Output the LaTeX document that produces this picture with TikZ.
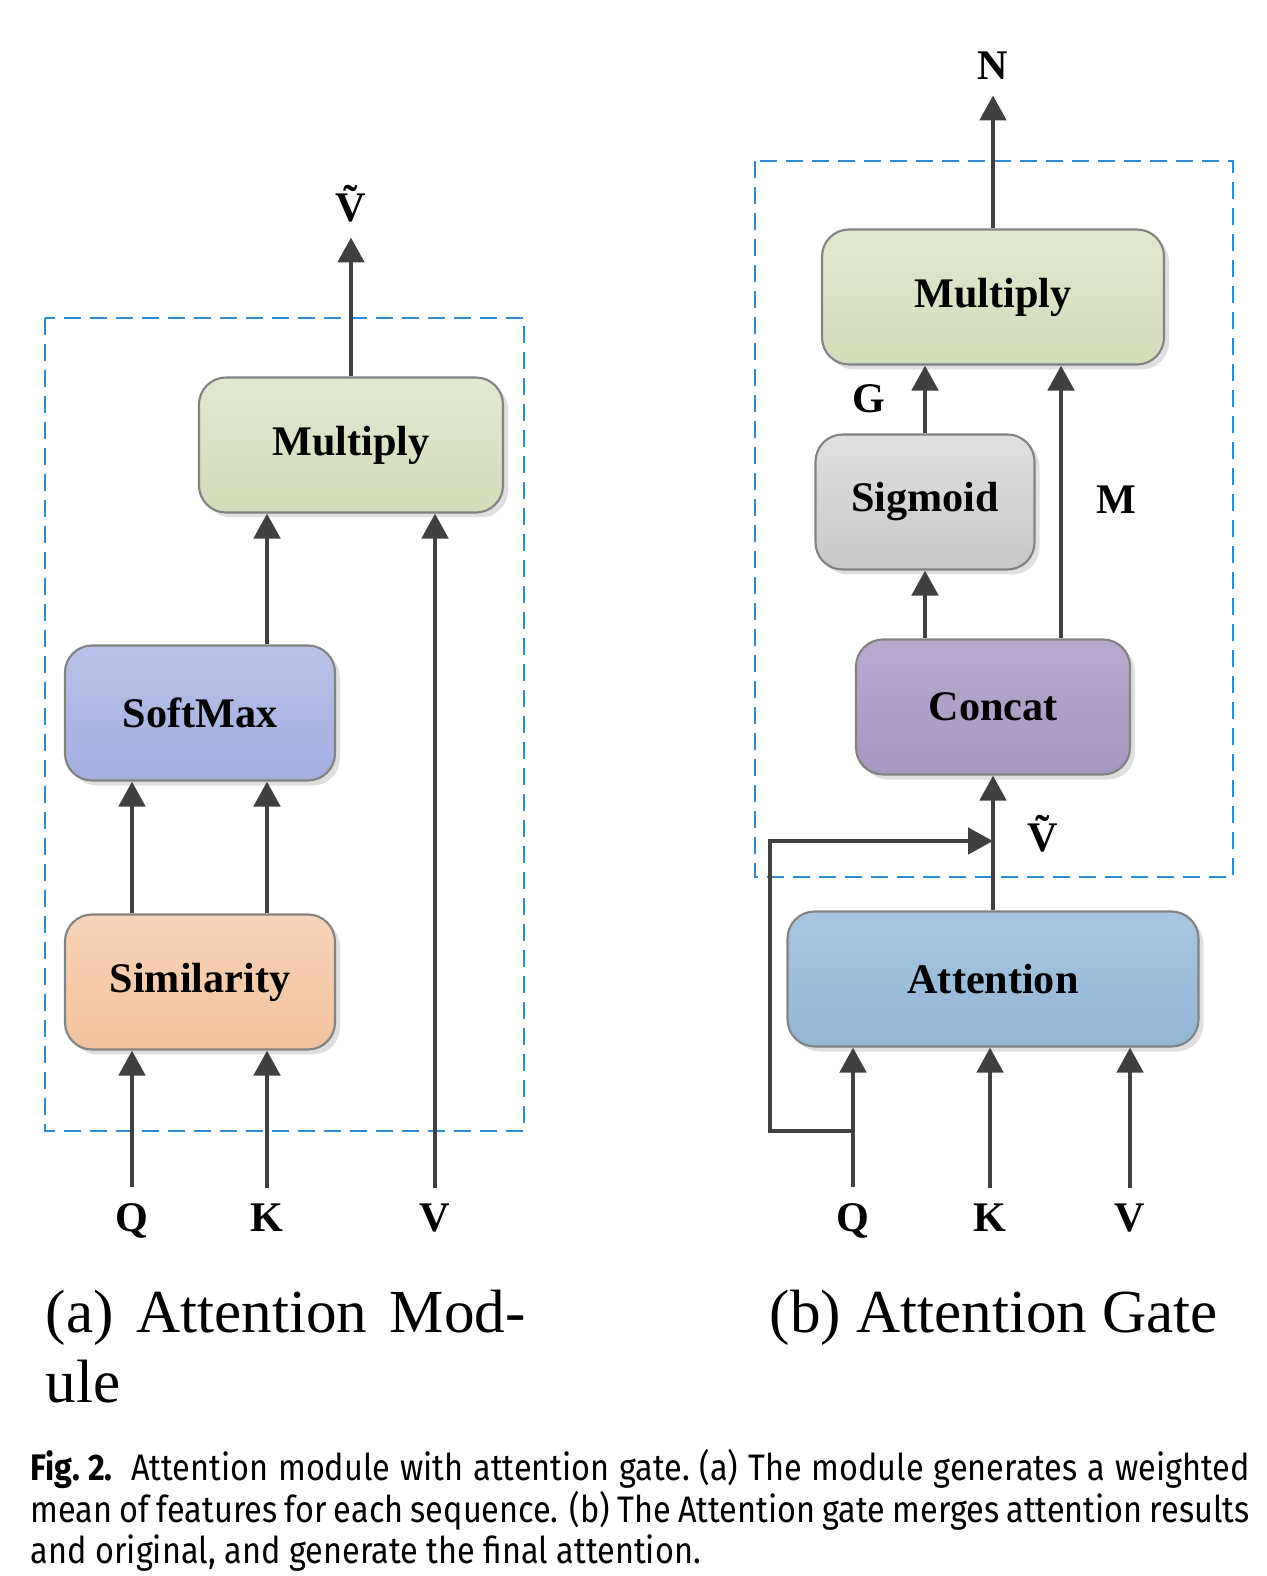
\documentclass[tikz,border=0pt]{standalone}
\usepackage{fontspec}
\usepackage{tikz}
\usetikzlibrary{arrows.meta,positioning,shadows}
\newfontfamily\boxfont{Liberation Serif}
\newfontfamily\capfont[FakeStretch=0.88]{Fira Sans}
\definecolor{arrowgray}{RGB}{64,64,64}
\definecolor{boxline}{RGB}{130,130,130}
\definecolor{dashblue}{RGB}{45,140,210}
\newcommand{\vtil}{Ṽ}

\begin{document}
\begin{tikzpicture}[
    x=0.1mm, y=-0.1mm,
    box/.style={rectangle, rounded corners=2.7mm, draw=boxline, line width=0.6pt, minimum height=13.5mm, align=center, font=\boxfont\bfseries\fontsize{12}{14}\selectfont, drop shadow={shadow xshift=0.5mm, shadow yshift=-0.5mm, opacity=0.25}},
    lbl/.style={inner sep=1.5mm, font=\boxfont\bfseries\fontsize{12}{14}\selectfont},
    sub/.style={anchor=base west, inner sep=0, font=\boxfont\fontsize{17.4}{20}\selectfont},
    arrow/.style={-{Triangle[width=2.6mm,length=2.5mm]}, line width=1.4pt, draw=arrowgray},
    group/.style={draw=dashblue, line width=0.8pt, dash pattern=on 1.7mm off 0.9mm}
]
\useasboundingbox (0,0) rectangle (1266,1576);

% (a) Attention module
\draw[group] (45,318) rectangle (524,1131);
\node[box, minimum width=30.4mm, top color={rgb,255:red,224;green,232;blue,208}, bottom color={rgb,255:red,210;green,221;blue,186}] (mulA) at (351,445) {Multiply};
\node[box, minimum width=27mm, top color={rgb,255:red,186;green,194;blue,233}, bottom color={rgb,255:red,162;green,174;blue,222}] (softA) at (200,713) {SoftMax};
\node[box, minimum width=27mm, top color={rgb,255:red,249;green,212;blue,184}, bottom color={rgb,255:red,240;green,194;blue,158}] (simA) at (200,982) {Similarity};
\node[lbl, above=13.9mm of mulA] (vtA) {\vtil};
\node[lbl, anchor=base] (qA) at (132,1231) {Q};
\node[lbl, anchor=base] (kA) at (267,1231) {K};
\node[lbl, anchor=base] (vA) at (435,1231) {V};

\draw[arrow] (qA.north) -- (qA.north |- simA.south);
\draw[arrow] (kA.north) -- (kA.north |- simA.south);
\draw[arrow] (vA.north) -- (vA.north |- mulA.south);
\draw[arrow] (simA.north -| qA) -- (softA.south -| qA);
\draw[arrow] (simA.north -| kA) -- (softA.south -| kA);
\draw[arrow] (softA.north -| kA) -- (mulA.south -| kA);
\draw[arrow] (mulA.north) -- (vtA.south);

% (b) Attention gate
\draw[group] (755,161) rectangle (1233,877);
\node[box, minimum width=34.2mm, top color={rgb,255:red,224;green,232;blue,208}, bottom color={rgb,255:red,210;green,221;blue,186}] (mulB) at (993,297) {Multiply};
\node[box, minimum width=21.9mm, top color={rgb,255:red,224;green,224;blue,224}, bottom color={rgb,255:red,200;green,200;blue,200}] (sigB) at (925,502) {Sigmoid};
\node[box, minimum width=27.4mm, top color={rgb,255:red,184;green,170;blue,207}, bottom color={rgb,255:red,166;green,150;blue,194}] (conB) at (993,707) {Concat};
\node[box, minimum width=41.1mm, top color={rgb,255:red,168;green,198;blue,225}, bottom color={rgb,255:red,146;green,182;blue,214}] (attB) at (993,979) {Attention};
\node[lbl, above=13.3mm of mulB] (nB) {N};
\node[lbl] (gB) at (869,399) {G};
\node[lbl] (mB) at (1116,500) {M};
\node[lbl] (vtB) at (1043,834) {\vtil};
\node[lbl, anchor=base] (qB) at (853,1231) {Q};
\node[lbl, anchor=base] (kB) at (990,1231) {K};
\node[lbl, anchor=base] (vB) at (1130,1231) {V};
\coordinate (mcol) at (1061,707);
\coordinate (fbq) at (853,1131);
\coordinate (fbl) at (770,1131);
\coordinate (fbt) at (770,841);

\draw[arrow] (qB.north) -- (qB.north |- attB.south);
\draw[arrow] (kB.north) -- (kB.north |- attB.south);
\draw[arrow] (vB.north) -- (vB.north |- attB.south);
\draw[arrow] (attB.north -| conB) -- (conB.south);
\draw[arrow] (fbq) -- (fbl) -- (fbt) -- (conB.south |- fbt);
\draw[arrow] (conB.north -| sigB) -- (sigB.south);
\draw[arrow] (sigB.north) -- (sigB.north |- mulB.south);
\draw[arrow] (conB.north -| mcol) -- (mulB.south -| mcol);
\draw[arrow] (mulB.north) -- (nB.south);

% sub-captions
\node[sub] (capA) at (45,1332) {\makebox[48mm][s]{(a) Attention Mod-}};
\node[sub] (capA2) at (45,1402) {ule};
\node[sub] (capB) at (769,1332) {(b) Attention Gate};

% figure caption
\node[anchor=north west, inner sep=0, align=left, font=\capfont\fontsize{10.5}{11.7}\selectfont] (fig) at (30,1449) {\frenchspacing
\makebox[121.9mm][s]{\mbox{\textbf{Fig.\ 2.}}\enspace Attention module with attention gate. (a) The module generates a weighted}\\
\makebox[121.9mm][s]{mean of features for each sequence. (b) The Attention gate merges attention results}\\
and original, and generate the final attention.};
\end{tikzpicture}
\end{document}
